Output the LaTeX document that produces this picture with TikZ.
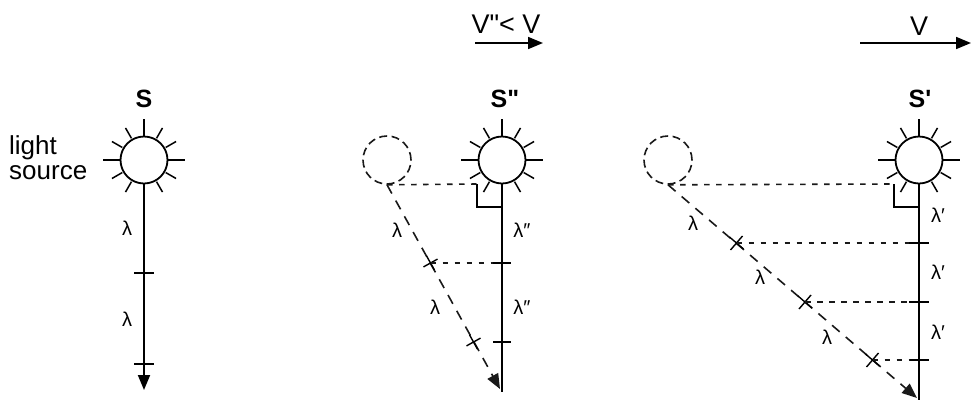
\documentclass[tikz,border=0pt]{standalone}
\usepackage{fontspec}
\newfontfamily\arl{Liberation Sans}
\usetikzlibrary{arrows.meta,calc}
\tikzset{
  ln/.style={line width=1.9pt, black},
  thin ln/.style={line width=1.7pt, black},
  hdash/.style={line width=1.6pt, black!90, dash pattern=on 5.5pt off 6.5pt},
  ddash/.style={line width=1.6pt, black!90, dash pattern=on 10pt off 8pt},
  ghost/.style={circle, draw, line width=1.6pt, black!90, dash pattern=on 8pt off 4.5pt, minimum size=48pt, inner sep=0pt},
  sunbody/.style={circle, draw, line width=1.8pt, black, minimum size=47pt, inner sep=0pt},
  arr/.style={-{Triangle[length=15pt,width=12pt]}},
  lbl/.style={font=\arl\fontsize{26}{26}\selectfont, inner sep=0pt},
  slbl/.style={font=\arl\bfseries\fontsize{25}{25}\selectfont, inner sep=0pt, anchor=base},
  vlbl/.style={font=\arl\fontsize{27}{27}\selectfont, inner sep=0pt, anchor=base},
  lam/.style={font=\arl\fontsize{20}{20}\selectfont, inner sep=0pt},
}
\newcommand\drawsun[2]{%
  \node[sunbody] (#1) at (#2) {};
  \foreach \a in {0,90,180,270}{\draw[line width=1.8pt, black] ([shift={(\a:24)}]#1.center) -- ([shift={(\a:41)}]#1.center);}
  \foreach \a in {30,60,120,150,210,240,300,330}{\draw[line width=1.5pt, black] ([shift={(\a:25)}]#1.center) -- ([shift={(\a:37)}]#1.center);}
}
\newcommand\xmark[3]{% coordinate, along vector, perp vector
  \draw[line width=1.4pt, black] ($(#1)+(#2)$) -- ($(#1)-(#2)$) ($(#1)+(#3)$) -- ($(#1)-(#3)$);
}
\begin{document}
\begin{tikzpicture}[x=1pt,y=-1pt]
\useasboundingbox (0,0) rectangle (971,400);

% ---------- Panel 1 ----------
\drawsun{sunA}{144,160}
\node[slbl] (sA) at (144,107) {S};
\node[lbl, anchor=base west] (ls1) at (9,154) {light};
\node[lbl, anchor=base west] (ls2) at (9,179) {source};
\coordinate (endA) at (144,390);
\draw[ln, arr] (sunA.south) -- (endA);
\coordinate (tA1) at (144,273);
\coordinate (tA2) at (144,364);
\draw[ln] ($(tA1)+(-10,0)$) -- ($(tA1)+(10,0)$);
\draw[ln] ($(tA2)+(-10,0)$) -- ($(tA2)+(10,0)$);
\node[lam] (lA1) at (127,228) {λ};
\node[lam] (lA2) at (127,319) {λ};

% ---------- Panel 2 ----------
\node[vlbl] (vB) at (506,33) {V"< V};
\coordinate (aB1) at (475,43);
\coordinate (aB2) at (543,43);
\draw[thin ln, arr] (aB1) -- (aB2);
\drawsun{sunB}{502,160}
\node[ghost] (ghostB) at (387,160) {};
\node[slbl] (sB) at (505,107) {S"};
\coordinate (endB) at (502,392);
\draw[ln] (sunB.south) -- (endB);
\coordinate (rB) at (477,184);
\draw[hdash] (ghostB.south) -- (rB);
\draw[thin ln] (rB) -- (477,207) -- (502,207);
\coordinate (dB) at (500,389);
\draw[ddash, arr] (ghostB.south) -- (dB);
\coordinate (tB1) at (502,263);
\coordinate (tB2) at (502,342);
\draw[ln] ($(tB1)+(-9,0)$) -- ($(tB1)+(9,0)$);
\draw[ln] ($(tB2)+(-9,0)$) -- ($(tB2)+(9,0)$);
\coordinate (xB1) at (430.5,263);
\coordinate (xB2) at (473.5,342);
\xmark{xB1}{3.9,7}{-7,3.9}
\xmark{xB2}{3.9,7}{-7,3.9}
\draw[hdash] (xB1) -- ($(tB1)+(-9,0)$);
\node[lam] (lB1) at (397,230) {λ};
\node[lam] (lB2) at (435,307) {λ};
\node[lam] (lB3) at (522,230) {λ″};
\node[lam] (lB4) at (522,307) {λ″};

% ---------- Panel 3 ----------
\node[vlbl] (vC) at (919,35) {V};
\coordinate (aC1) at (860,43);
\coordinate (aC2) at (971,43);
\draw[thin ln, arr] (aC1) -- (aC2);
\drawsun{sunC}{919,160}
\node[ghost] (ghostC) at (668,160) {};
\node[slbl] (sC) at (920,107) {S'};
\coordinate (endC) at (919,400);
\draw[ln] (sunC.south) -- (endC);
\coordinate (rC) at (894,184);
\draw[hdash] (ghostC.south) -- (rC);
\draw[thin ln] (rC) -- (894,207) -- (919,207);
\coordinate (dC) at (917,398);
\draw[ddash, arr] (ghostC.south) -- (dC);
\coordinate (tC1) at (919,243);
\coordinate (tC2) at (919,302);
\coordinate (tC3) at (919,360);
\foreach \t in {tC1,tC2,tC3}{\draw[ln] ($(\t)+(-10,0)$) -- ($(\t)+(10,0)$);}
\coordinate (xC1) at (736.5,243);
\coordinate (xC2) at (805,302);
\coordinate (xC3) at (872.5,360);
\xmark{xC1}{7,6}{-6,7}
\xmark{xC2}{7,6}{-6,7}
\xmark{xC3}{7,6}{-6,7}
\draw[hdash] (xC1) -- ($(tC1)+(-10,0)$);
\draw[hdash] (xC2) -- ($(tC2)+(-10,0)$);
\draw[hdash] (xC3) -- ($(tC3)+(-10,0)$);
\node[lam] (lC1) at (693,223) {λ};
\node[lam] (lC2) at (760,277) {λ};
\node[lam] (lC3) at (827,337) {λ};
\node[lam] (lC4) at (938,215) {λ′};
\node[lam] (lC5) at (938,272) {λ′};
\node[lam] (lC6) at (938,332) {λ′};
\end{tikzpicture}
\end{document}
